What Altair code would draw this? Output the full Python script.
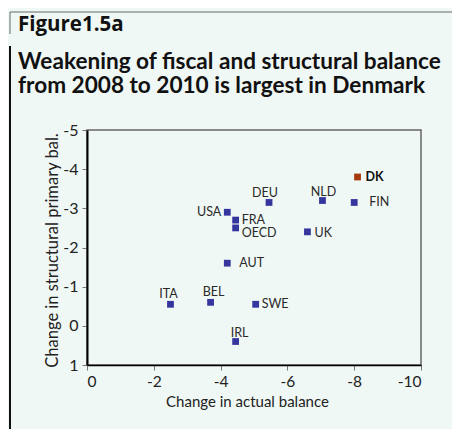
import altair as alt
import pandas as pd

# ---- data ----
countries = ["DK", "FIN", "NLD", "DEU", "USA", "FRA", "OECD", "UK", "AUT", "ITA", "BEL", "SWE", "IRL"]
actual_change = [-8.1, -8.0, -7.05, -5.45, -4.2, -4.45, -4.45, -6.6, -4.2, -2.5, -3.7, -5.05, -4.45]
structural_change = [-3.8, -3.15, -3.2, -3.15, -2.9, -2.7, -2.5, -2.4, -1.6, -0.55, -0.6, -0.55, 0.4]
highlight = ["DK"]
x_ticks = [0, -2, -4, -6, -8, -10]
y_ticks = [-5, -4, -3, -2, -1, 0, 1]

fig_label = "Figure1.5a"
title_lines = ["Weakening of fiscal and structural balance",
               "from 2008 to 2010 is largest in Denmark"]
x_title = "Change in actual balance"
y_title = "Change in structural primary bal."

# ---- label placement (style) ----
label_style = {
    "DK": ("left", 8, 0),
    "FIN": ("left", 15, 0),
    "NLD": ("center", 1, -9),
    "DEU": ("center", -4, -9),
    "USA": ("right", -6, 0),
    "FRA": ("left", 6, 0),
    "OECD": ("left", 6, 5),
    "UK": ("left", 7, 1),
    "AUT": ("left", 12, 0),
    "ITA": ("center", -2, -10),
    "BEL": ("center", 3, -10),
    "SWE": ("left", 6, 0),
    "IRL": ("center", 4, -9),
}

df = pd.DataFrame({
    "country": countries,
    "actual": actual_change,
    "structural": structural_change,
})
df["hl"] = df["country"].isin(highlight)

FONT = "Lato"
BG = "#f0f8f5"
BLUE = "#35359e"
RUST = "#a4390f"

label_expr = "datum.value < 0 ? '-' + format(-datum.value, 'd') : format(datum.value, 'd')"

x_scale = alt.Scale(domain=[-10, 0], reverse=True, nice=False, zero=False)
y_scale = alt.Scale(domain=[-5, 1], reverse=True, nice=False, zero=False)

x_axis = alt.Axis(values=x_ticks, title=x_title, grid=False, labelExpr=label_expr,
                  labelOverlap=False, labelBound=False,
                  domainColor="black", domainWidth=1.5, tickColor="#777", tickSize=5,
                  labelFontSize=15.5, labelPadding=4, labelColor="#222",
                  titleFontSize=15, titleFontWeight="normal", titleColor="#222",
                  titleX=160, titleY=41, titleAlign="center", titleBaseline="alphabetic",
                  zindex=1)
y_axis = alt.Axis(values=y_ticks, title=y_title, grid=False, labelExpr=label_expr,
                  labelOverlap=False, labelBound=False,
                  domainColor="black", domainWidth=2, tickColor="#777", tickSize=5,
                  labelFontSize=16, labelPadding=4, labelColor="#222",
                  titleFontSize=16.5, titleFontWeight="normal", titleColor="#222",
                  titleX=-30, titleY=120, titleAlign="center", titleBaseline="alphabetic",
                  titleAngle=270, zindex=1)

base = alt.Chart(df)

points = base.mark_square(size=46, opacity=1).encode(
    x=alt.X("actual:Q", scale=x_scale, axis=x_axis),
    y=alt.Y("structural:Q", scale=y_scale, axis=y_axis),
    color=alt.condition(alt.datum.hl, alt.value(RUST), alt.value(BLUE)),
)

label_layers = []
for c in countries:
    align, dx, dy = label_style[c]
    label_layers.append(
        base.transform_filter(alt.datum.country == c).mark_text(
            align=align, baseline="middle", dx=dx, dy=dy, font=FONT, fontSize=12.5,
            fontWeight="bold" if c in highlight else "normal",
            color="#111" if c in highlight else "#2a2a2a",
        ).encode(
            x=alt.X("actual:Q", scale=x_scale, axis=x_axis),
            y=alt.Y("structural:Q", scale=y_scale, axis=y_axis),
            text="country:N",
        )
    )

titles_df = pd.DataFrame({"t": [fig_label] + title_lines, "k": [0, 1, 2]})
fig_text = alt.Chart(titles_df).transform_filter(alt.datum.k == 0).mark_text(
    align="left", baseline="alphabetic", font="Open Sans", fontSize=20.5, fontWeight="bold", color="#111"
).encode(x=alt.value(-69), y=alt.value(-99), text="t:N")
title1 = alt.Chart(titles_df).transform_filter(alt.datum.k == 1).mark_text(
    align="left", baseline="alphabetic", font=FONT, fontSize=22.6, fontWeight="bold", color="#111"
).encode(x=alt.value(-69), y=alt.value(-61), text="t:N")
title2 = alt.Chart(titles_df).transform_filter(alt.datum.k == 2).mark_text(
    align="left", baseline="alphabetic", font=FONT, fontSize=22.6, fontWeight="bold", color="#111"
).encode(x=alt.value(-69), y=alt.value(-37), text="t:N")

frame_top = alt.Chart(titles_df).transform_filter(alt.datum.k == 0).mark_rule(
    color="#666", strokeWidth=1
).encode(x=alt.value(-77), x2=alt.value(365), y=alt.value(-118))
frame_left = alt.Chart(titles_df).transform_filter(alt.datum.k == 0).mark_rule(
    color="#111", strokeWidth=2
).encode(x=alt.value(-77), y=alt.value(-84), y2=alt.value(299))
frame_left_top = alt.Chart(titles_df).transform_filter(alt.datum.k == 0).mark_rule(
    color="#666", strokeWidth=1
).encode(x=alt.value(-77), y=alt.value(-118), y2=alt.value(-96))

chart = alt.layer(
    points, *label_layers, fig_text, title1, title2, frame_top, frame_left, frame_left_top
).properties(
    width=334, height=235,
    autosize=alt.AutoSizeParams(type="none"),
    padding={"left": 79, "top": 122, "right": 31, "bottom": 64},
    background=BG,
).configure_view(
    stroke="#666", strokeWidth=1.5
).configure_axis(
    labelFont=FONT, titleFont=FONT, labelOverlap=False
).configure_axisY(
    labelOverlap=False
)

chart.save("out.html", embed_options={"renderer": "svg", "actions": False})
